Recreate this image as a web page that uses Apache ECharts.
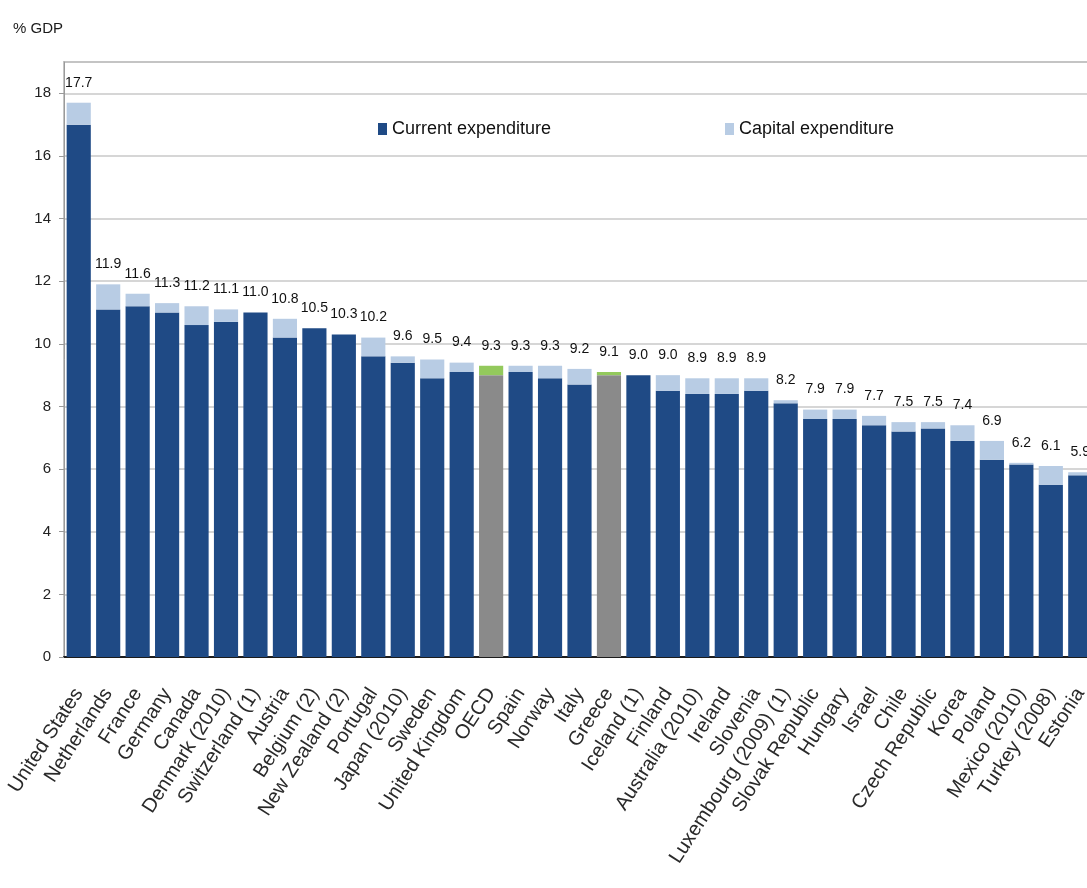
<!DOCTYPE html>
<html>
<head>
<meta charset="utf-8">
<script src="https://cdn.jsdelivr.net/npm/echarts@6/dist/echarts.min.js"></script>
<style>
  html, body { margin: 0; padding: 0; background: #ffffff; }
  #chart { width: 1087px; height: 888px; }
</style>
</head>
<body>
<div id="chart"></div>
<script>
const categories = ["United States", "Netherlands", "France", "Germany", "Canada", "Denmark (2010)", "Switzerland (1)", "Austria", "Belgium (2)", "New Zealand (2)", "Portugal", "Japan (2010)", "Sweden", "United Kingdom", "OECD", "Spain", "Norway", "Italy", "Greece", "Iceland (1)", "Finland", "Australia (2010)", "Ireland", "Slovenia", "Luxembourg (2009) (1)", "Slovak Republic", "Hungary", "Israel", "Chile", "Czech Republic", "Korea", "Poland", "Mexico (2010)", "Turkey (2008)", "Estonia"];
const currentExp = [17.0, 11.1, 11.2, 11.0, 10.6, 10.7, 11.0, 10.2, 10.5, 10.3, 9.6, 9.4, 8.9, 9.1, 9.0, 9.1, 8.9, 8.7, 9.0, 9.0, 8.5, 8.4, 8.4, 8.5, 8.1, 7.6, 7.6, 7.4, 7.2, 7.3, 6.9, 6.3, 6.15, 5.5, 5.8];
const capitalExp = [0.7, 0.8, 0.4, 0.3, 0.6, 0.4, 0.0, 0.6, 0.0, 0.0, 0.6, 0.2, 0.6, 0.3, 0.3, 0.2, 0.4, 0.5, 0.1, 0.0, 0.5, 0.5, 0.5, 0.4, 0.1, 0.3, 0.3, 0.3, 0.3, 0.2, 0.5, 0.6, 0.05, 0.6, 0.1];
const totalLabels = ["17.7", "11.9", "11.6", "11.3", "11.2", "11.1", "11.0", "10.8", "10.5", "10.3", "10.2", "9.6", "9.5", "9.4", "9.3", "9.3", "9.3", "9.2", "9.1", "9.0", "9.0", "8.9", "8.9", "8.9", "8.2", "7.9", "7.9", "7.7", "7.5", "7.5", "7.4", "6.9", "6.2", "6.1", "5.9"];
const highlighted = ["OECD", "Greece"];
const yTicks = [0, 2, 4, 6, 8, 10, 12, 14, 16, 18];

const SANS = "'Liberation Sans', Arial, sans-serif";

const C_BLUE = '#1f4a85';
const C_LIGHT = '#b8cce4';
const C_GREY = '#8a8a8a';
const C_GREEN = '#93c95c';

const currentData = currentExp.map((v, i) => highlighted.includes(categories[i])
  ? { value: v, itemStyle: { color: C_GREY } } : v);
const capitalData = capitalExp.map((v, i) => highlighted.includes(categories[i])
  ? { value: v, itemStyle: { color: C_GREEN } } : v);

const chart = echarts.init(document.getElementById('chart'), null, { renderer: 'canvas' });
chart.setOption({
  animation: false,
  backgroundColor: '#ffffff',
  graphic: [{
    type: 'text', left: 13, top: 21,
    style: { text: '% GDP', fontFamily: SANS, fontSize: 15, fill: '#1a1a1a' }
  }],
  legend: [{
    data: ['Current expenditure'], left: 373, top: 115, icon: 'rect',
    itemWidth: 9, itemHeight: 12,
    textStyle: { fontFamily: SANS, fontSize: 18, color: '#111' }
  }, {
    data: ['Capital expenditure'], left: 720, top: 115, icon: 'rect',
    itemWidth: 9, itemHeight: 12,
    textStyle: { fontFamily: SANS, fontSize: 18, color: '#111' }
  }],
  grid: {
    left: 64, top: 62, right: -8, bottom: 231,
    containLabel: false, outerBoundsMode: 'none',
    show: true, borderColor: '#c4c4c4', borderWidth: 2, backgroundColor: 'transparent'
  },
  xAxis: {
    type: 'category', data: categories,
    axisLine: { lineStyle: { color: '#1c1c1c', width: 2 } },
    axisTick: { show: false },
    axisLabel: {
      interval: 0, rotate: 57, margin: 33,
      fontFamily: SANS, fontSize: 20, color: '#2a2a2a'
    }
  },
  yAxis: {
    type: 'value', min: 0, max: 19, interval: 1,
    axisLine: { show: true, lineStyle: { color: '#9a9a9a', width: 1 } },
    axisTick: { show: true, length: 5, customValues: yTicks, lineStyle: { color: '#9a9a9a' } },
    axisLabel: { customValues: yTicks, margin: 13, fontFamily: SANS, fontSize: 15, color: '#222' },
    splitLine: { show: true, lineStyle: { color: '#d6d6d6', width: 2 } }
  },
  series: [{
    name: 'Current expenditure', type: 'bar', stack: 'tot',
    data: currentData, barWidth: '82%',
    itemStyle: { color: C_BLUE }
  }, {
    name: 'Capital expenditure', type: 'bar', stack: 'tot',
    data: capitalData, barWidth: '82%',
    itemStyle: { color: C_LIGHT },
    label: {
      show: true, position: 'top', distance: 13,
      formatter: p => totalLabels[p.dataIndex],
      fontFamily: SANS, fontSize: 14, color: '#111'
    }
  }]
});
</script>
</body>
</html>
